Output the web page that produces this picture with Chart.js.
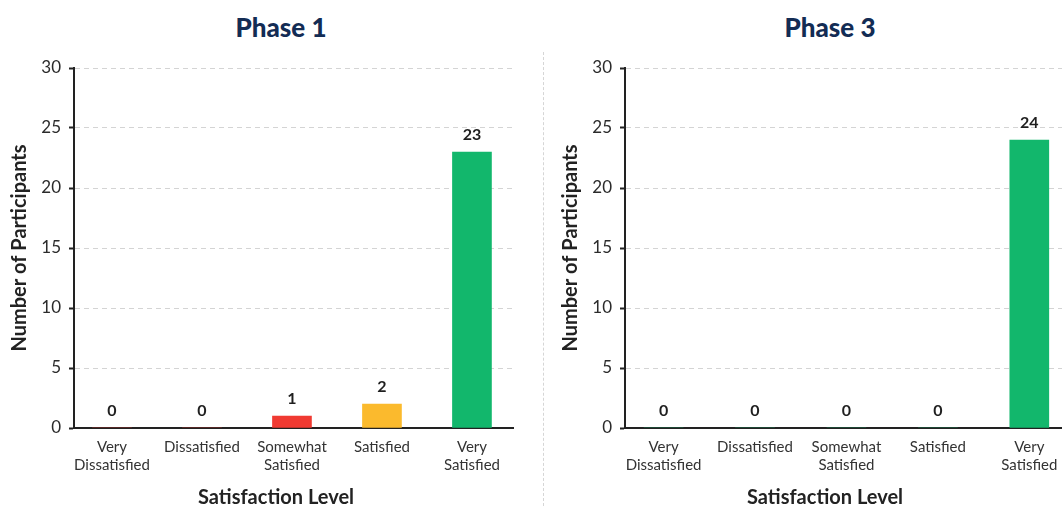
<!DOCTYPE html>
<html>
<head>
<meta charset="utf-8">
<title>Satisfaction Level by Phase</title>
<script src="https://cdn.jsdelivr.net/npm/chart.js@4.4.1/dist/chart.umd.min.js"></script>
<style>
    html, body {
        margin: 0;
        padding: 0;
        width: 1062px;
        height: 506px;
        overflow: hidden;
        background: #ffffff;
        font-family: 'Lato', sans-serif;
    }
    .panel {
        position: absolute;
        top: 0;
        height: 506px;
    }
    .phase-title {
        position: absolute;
        top: 11px;
        width: 200px;
        margin-left: -100px;
        text-align: center;
        font-size: 26px;
        font-weight: 900;
        color: #132c54;
    }
    .axis-title {
        position: absolute;
        top: 484px;
        width: 260px;
        margin-left: -130px;
        text-align: center;
        font-size: 20px;
        font-weight: 700;
        color: #222222;
    }
    .divider {
        position: absolute;
        left: 543px;
        top: 52px;
        height: 454px;
        border-left: 1px dashed #d6d6d6;
    }
</style>
</head>
<body>
<div class="phase-title" style="left: 281px;">Phase 1</div>
<div class="phase-title" style="left: 830px;">Phase 3</div>
<div class="divider"></div>
<div class="panel" style="left: 0; width: 530px;"><canvas id="phase1Chart"></canvas></div>
<div class="panel" style="left: 551px; width: 537px;"><canvas id="phase3Chart"></canvas></div>
<div class="axis-title" style="left: 276px;">Satisfaction Level</div>
<div class="axis-title" style="left: 825px;">Satisfaction Level</div>

<script>
// data
const satisfactionLevels = [
    ['Very', 'Dissatisfied'],
    'Dissatisfied',
    ['Somewhat', 'Satisfied'],
    'Satisfied',
    ['Very', 'Satisfied']
];
const phase1Counts = [0, 0, 1, 2, 23];
const phase3Counts = [0, 0, 0, 0, 24];
const yMax = 30;
const yStep = 5;

const BAR_COLORS = ['#f03a32', '#f03a32', '#f03a32', '#fbba2d', '#12b76c'];

// draws the count above every bar
const valueLabels = {
    id: 'valueLabels',
    afterDatasetsDraw(chart) {
        const ctx = chart.ctx;
        const meta = chart.getDatasetMeta(0);
        const data = chart.data.datasets[0].data;
        ctx.save();
        ctx.font = '700 16px Lato';
        ctx.fillStyle = '#1f1f1f';
        ctx.textAlign = 'center';
        ctx.textBaseline = 'middle';
        meta.data.forEach((bar, i) => {
            ctx.fillText(String(data[i].y), bar.x, bar.y - 17);
        });
        ctx.restore();
    }
};

const Charts = {
    createPhaseChart(canvasId, counts, colors) {
        const ctx = document.getElementById(canvasId);
        if (!ctx) return null;

        return new Chart(ctx, {
            type: 'bar',
            data: {
                datasets: [{
                    label: 'Number of Participants',
                    data: counts.map((v, i) => ({ x: i, y: v })),
                    backgroundColor: colors,
                    borderWidth: 0,
                    barThickness: 39
                }]
            },
            options: {
                responsive: true,
                maintainAspectRatio: false,
                animation: false,
                layout: {
                    padding: { top: 68, right: 17, bottom: 0, left: 0 }
                },
                plugins: {
                    legend: { display: false },
                    tooltip: { enabled: false }
                },
                scales: {
                    x: {
                        type: 'linear',
                        min: -0.422,
                        max: 4.456,
                        offset: false,
                        grid: { display: false, drawTicks: false },
                        border: { display: true, color: '#222222', width: 2 },
                        afterBuildTicks: scale => {
                            scale.ticks = satisfactionLevels.map((_, i) => ({ value: i }));
                        },
                        afterFit: scale => { scale.height = 78; },
                        ticks: {
                            color: '#333333',
                            font: { family: 'Lato', size: 15, lineHeight: 1.22 },
                            padding: 10,
                            maxRotation: 0,
                            autoSkip: false,
                            callback: value => satisfactionLevels[value]
                        }
                    },
                    y: {
                        min: 0,
                        max: yMax,
                        grid: {
                            color: '#d4d4d4',
                            lineWidth: 1,
                            drawTicks: true,
                            tickLength: 5,
                            tickColor: '#222222',
                            tickWidth: 2
                        },
                        border: { display: true, color: '#222222', width: 2, dash: [5, 4] },
                        afterFit: scale => { scale.width = 74; },
                        title: {
                            display: true,
                            text: 'Number of Participants',
                            color: '#222222',
                            font: { family: 'Lato', size: 20, weight: '700' },
                            padding: { top: 8, bottom: 0 }
                        },
                        ticks: {
                            stepSize: yStep,
                            color: '#2b2b2b',
                            font: { family: 'Lato', size: 17 },
                            padding: 8
                        }
                    }
                }
            },
            plugins: [valueLabels]
        });
    }
};

Charts.createPhaseChart('phase1Chart', phase1Counts, BAR_COLORS);
Charts.createPhaseChart('phase3Chart', phase3Counts, BAR_COLORS.map(() => BAR_COLORS[4]));
</script>
</body>
</html>
